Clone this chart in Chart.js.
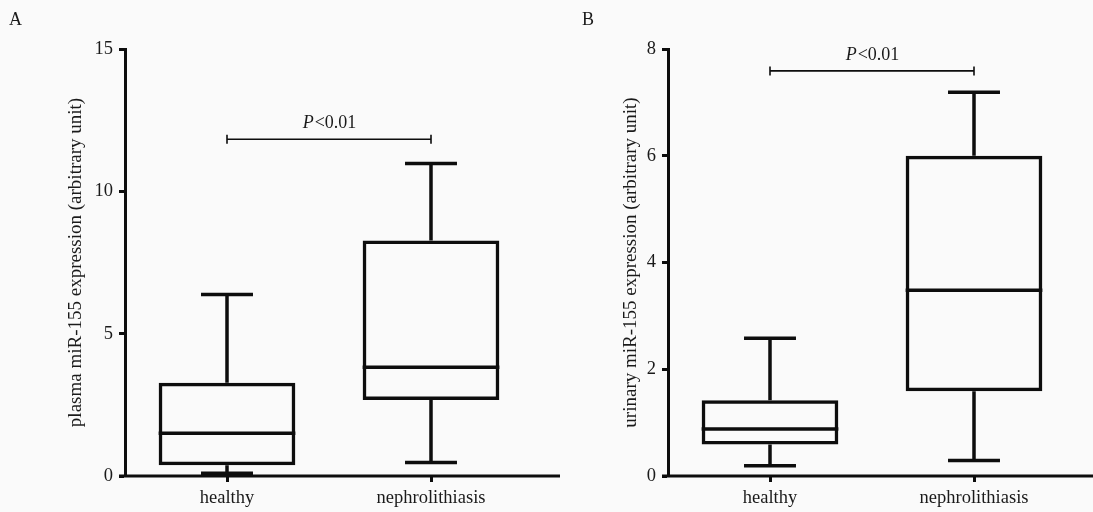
<!DOCTYPE html>
<html>
<head>
<meta charset="utf-8">
<script src="https://cdn.jsdelivr.net/npm/chart.js@4.4.1/dist/chart.umd.min.js"></script>
<style>
  body { margin: 0; background: #fafafa; width: 1093px; height: 512px; overflow: hidden; position: relative;
         font-family: 'Liberation Serif', serif; color: #1a1a1a; }
  .panel { position: absolute; top: 0; height: 512px; }
  #wrapA { left: 0; width: 560px; }
  #wrapB { left: 546px; width: 547px; }
  .tag { position: absolute; top: 9px; font-size: 18px; }
</style>
</head>
<body>
<div class="panel" id="wrapA"><canvas id="chartA"></canvas></div>
<div class="panel" id="wrapB"><canvas id="chartB"></canvas></div>
<div class="tag" style="left:9px">A</div>
<div class="tag" style="left:582px">B</div>
<script>
const categories = ['healthy', 'nephrolithiasis'];

// panel A - plasma miR-155
const plasmaMin = [0.1, 0.47];
const plasmaQ1 = [0.38, 2.67];
const plasmaMedian = [1.5, 3.82];
const plasmaQ3 = [3.28, 8.27];
const plasmaMax = [6.38, 10.98];
const plasmaTicks = [0, 5, 10, 15];

// panel B - urinary miR-155
const urinaryMin = [0.19, 0.29];
const urinaryQ1 = [0.59, 1.59];
const urinaryMedian = [0.88, 3.48];
const urinaryQ3 = [1.42, 6.0];
const urinaryMax = [2.58, 7.19];
const urinaryTicks = [0, 2, 4, 6, 8];

const pLabel = 'P<0.01';

const ink = '#0d0d0d';
const textInk = '#1a1a1a';
const serif = "'Liberation Serif', serif";

// whiskers, medians, x axis line and the significance bracket
const boxPlot = {
  id: 'boxPlot',
  afterDatasetsDraw(chart, args, opts) {
    const ctx = chart.ctx;
    const xs = chart.scales.x, ys = chart.scales.y;
    const bars = chart.getDatasetMeta(0).data;
    ctx.save();
    ctx.strokeStyle = ink;
    ctx.lineWidth = 3.5;
    bars.forEach((bar, i) => {
      const half = bar.width / 2, cap = bar.width * 0.19;
      const yMed = ys.getPixelForValue(opts.median[i]);
      const yQ1 = ys.getPixelForValue(opts.q1[i]);
      const yQ3 = ys.getPixelForValue(opts.q3[i]);
      const yMin = ys.getPixelForValue(opts.min[i]);
      const yMax = ys.getPixelForValue(opts.max[i]);
      ctx.beginPath();
      ctx.moveTo(bar.x - half, yMed); ctx.lineTo(bar.x + half, yMed);
      ctx.moveTo(bar.x, yQ3); ctx.lineTo(bar.x, yMax);
      ctx.moveTo(bar.x - cap, yMax); ctx.lineTo(bar.x + cap, yMax);
      ctx.moveTo(bar.x, yQ1); ctx.lineTo(bar.x, yMin);
      ctx.moveTo(bar.x - cap, yMin); ctx.lineTo(bar.x + cap, yMin);
      ctx.stroke();
    });

    // x axis line runs a bit past the plot area
    const y0 = ys.getPixelForValue(0);
    ctx.lineWidth = 3;
    ctx.beginPath();
    ctx.moveTo(chart.chartArea.left - 6, y0);
    ctx.lineTo(chart.width, y0);
    ctx.stroke();

    // bracket
    const xa = xs.getPixelForValue(0), xb = xs.getPixelForValue(1);
    const yb = ys.getPixelForValue(opts.bracket);
    ctx.lineWidth = 1.6;
    ctx.beginPath();
    ctx.moveTo(xa, yb); ctx.lineTo(xb, yb);
    ctx.moveTo(xa, yb - 4.5); ctx.lineTo(xa, yb + 4.5);
    ctx.moveTo(xb, yb - 4.5); ctx.lineTo(xb, yb + 4.5);
    ctx.stroke();

    ctx.fillStyle = textInk;
    ctx.textBaseline = 'alphabetic';
    ctx.font = 'italic 18px ' + serif;
    const pw = ctx.measureText(pLabel[0]).width;
    ctx.font = '18px ' + serif;
    const rw = ctx.measureText(pLabel.slice(1)).width;
    const tx = (xa + xb) / 2 - (pw + rw) / 2;
    ctx.font = 'italic 18px ' + serif;
    ctx.fillText(pLabel[0], tx, yb - 11);
    ctx.font = '18px ' + serif;
    ctx.fillText(pLabel.slice(1), tx + pw + 1, yb - 11);
    ctx.restore();
  }
};

function makeChart(id, cfg) {
  return new Chart(document.getElementById(id), {
    type: 'bar',
    data: {
      labels: categories,
      datasets: [{
        data: cfg.q1.map((v, i) => [v, cfg.q3[i]]),
        backgroundColor: 'rgba(0,0,0,0)',
        borderColor: ink,
        borderWidth: 3.5,
        borderSkipped: false,
        categoryPercentage: 1,
        barPercentage: 0.67
      }]
    },
    options: {
      responsive: true,
      maintainAspectRatio: false,
      animation: false,
      layout: { padding: { left: 0, right: cfg.padRight, top: 49, bottom: 0 } },
      plugins: {
        legend: { display: false },
        tooltip: { enabled: false },
        boxPlot: cfg
      },
      scales: {
        x: {
          offset: true,
          border: { display: false },
          grid: { offset: false, drawOnChartArea: false, drawTicks: true, tickLength: 6, tickWidth: 3, tickColor: ink },
          ticks: { color: textInk, font: { family: serif, size: 18.5 }, padding: 5 },
          afterFit: (s) => { s.height = 36; }
        },
        y: {
          min: 0,
          max: cfg.ticks[cfg.ticks.length - 1],
          afterBuildTicks: (s) => { s.ticks = cfg.ticks.map(v => ({ value: v })); },
          border: { display: true, color: ink, width: 3 },
          grid: { drawOnChartArea: false, drawTicks: true, tickLength: 6, tickWidth: 3, tickColor: ink },
          ticks: { color: textInk, font: { family: serif, size: 18.5 }, padding: 6 },
          title: {
            display: true,
            text: cfg.title,
            color: textInk,
            font: { family: serif, size: 19 },
            padding: { top: cfg.titlePad, bottom: 0 }
          },
          afterFit: (s) => { s.width = cfg.axisLeft; }
        }
      }
    },
    plugins: [boxPlot]
  });
}

makeChart('chartA', {
  min: plasmaMin, q1: plasmaQ1, median: plasmaMedian, q3: plasmaQ3, max: plasmaMax,
  ticks: plasmaTicks, bracket: 11.83,
  title: 'plasma miR-155 expression (arbitrary unit)',
  titlePad: 65, axisLeft: 125, padRight: 27
});

makeChart('chartB', {
  min: urinaryMin, q1: urinaryQ1, median: urinaryMedian, q3: urinaryQ3, max: urinaryMax,
  ticks: urinaryTicks, bracket: 7.59,
  title: 'urinary miR-155 expression (arbitrary unit)',
  titlePad: 74, axisLeft: 122, padRight: 17
});
</script>
</body>
</html>
